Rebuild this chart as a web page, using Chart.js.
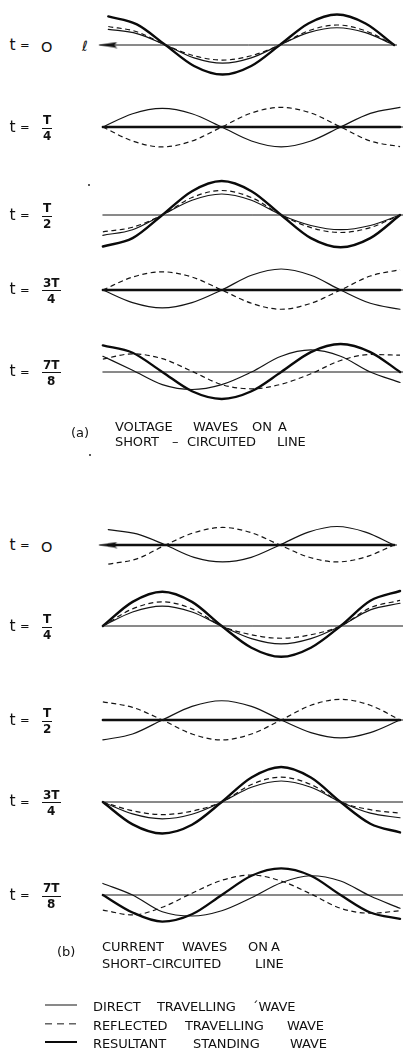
<!DOCTYPE html>
<html><head><meta charset="utf-8">
<script src="https://cdn.jsdelivr.net/npm/chart.js@4.4.1/dist/chart.umd.min.js"></script>
<style>
html,body{margin:0;padding:0;background:#fff;}
body{width:403px;height:1052px;position:relative;overflow:hidden;font-family:'DejaVu Sans',sans-serif;color:#111;}
canvas.w{position:absolute;left:88px;}
.a{position:absolute;line-height:1;white-space:pre;transform:translateY(-50%);}
.fr{position:absolute;display:flex;flex-direction:column;align-items:center;font-size:12px;font-weight:bold;line-height:1;transform:translateY(-50%);}
.fr .n{border-bottom:1.3px solid #111;padding:0 1px 1.5px;}
.fr .d{padding-top:1.5px;}
.dot{position:absolute;width:2px;height:2px;border-radius:1px;background:#222;}
.ls{position:absolute;width:32px;transform:translateY(-50%);}
</style></head>
<body>
<script>
// positions along the line, in eighths of a wavelength from the sending end
const positions = [0, 1, 2, 3, 4, 5, 6, 7, 8, 9, 10];
// instants shown (numerator / denominator of t)
const timeNum = ['O', 'T', 'T', '3T', '7T'];
const timeDen = ['', '4', '2', '4', '8'];

// (a) voltage waves on a short-circuited line, one row per instant
const voltDirect = [
  [0.51, 0.37, 0, -0.42, -0.59, -0.42, 0, 0.40, 0.56, 0.40, 0],
  [0, 0.38, 0.53, 0.38, 0, -0.40, -0.57, -0.40, 0, 0.39, 0.56],
  [-0.58, -0.42, 0, 0.42, 0.60, 0.42, 0, -0.30, -0.42, -0.30, 0],
  [0, -0.36, -0.51, -0.36, 0, 0.42, 0.60, 0.42, 0, -0.38, -0.55],
  [0.45, 0.05, -0.36, -0.50, -0.36, 0, 0.45, 0.63, 0.45, 0, -0.30]
];
const voltReflected = [
  [0.60, 0.43, 0, -0.35, -0.49, -0.35, 0, 0.46, 0.65, 0.46, 0],
  [0, -0.40, -0.57, -0.40, 0, 0.40, 0.56, 0.40, 0, -0.40, -0.56],
  [-0.48, -0.35, 0, 0.50, 0.70, 0.50, 0, -0.36, -0.50, -0.36, 0],
  [0, 0.37, 0.52, 0.37, 0, -0.38, -0.55, -0.38, 0, 0.40, 0.58],
  [0.37, 0.52, 0.38, 0.02, -0.36, -0.48, -0.35, -0.05, 0.33, 0.50, 0.48]
];
const voltResultant = [
  [0.93, 0.67, 0, -0.68, -0.96, -0.68, 0, 0.70, 0.99, 0.70, 0],
  [0, 0, 0, 0, 0, 0, 0, 0, 0, 0, 0],
  [-0.90, -0.66, 0, 0.68, 0.97, 0.68, 0, -0.66, -0.92, -0.66, 0],
  [0, 0, 0, 0, 0, 0, 0, 0, 0, 0, 0],
  [0.76, 0.55, 0, -0.55, -0.77, -0.55, 0, 0.57, 0.80, 0.57, 0]
];

// (b) current waves on a short-circuited line
const currDirect = [
  [0.50, 0.36, 0, -0.40, -0.55, -0.40, 0, 0.42, 0.60, 0.42, 0],
  [0, 0.40, 0.57, 0.40, 0, -0.36, -0.51, -0.36, 0, 0.46, 0.65],
  [-0.57, -0.40, 0, 0.39, 0.55, 0.39, 0, -0.36, -0.51, -0.36, 0],
  [0, -0.34, -0.48, -0.35, 0, 0.42, 0.60, 0.42, 0, -0.32, -0.45],
  [0.33, 0.00, -0.48, -0.60, -0.45, -0.08, 0.35, 0.55, 0.40, -0.03, -0.38]
];
const currReflected = [
  [-0.62, -0.45, 0, 0.40, 0.57, 0.40, 0, -0.39, -0.55, -0.39, 0],
  [0, 0.49, 0.69, 0.49, 0, -0.25, -0.35, -0.25, 0, 0.52, 0.73],
  [0.52, 0.36, 0, -0.40, -0.57, -0.40, 0, 0.42, 0.59, 0.42, 0],
  [0, -0.25, -0.36, -0.26, 0, 0.50, 0.71, 0.50, 0, -0.22, -0.32],
  [-0.43, -0.57, -0.35, 0.05, 0.42, 0.57, 0.40, 0.03, -0.38, -0.52, -0.45]
];
const currResultant = [
  [0, 0, 0, 0, 0, 0, 0, 0, 0, 0, 0],
  [0, 0.69, 0.98, 0.69, 0, -0.62, -0.88, -0.62, 0, 0.72, 1.00],
  [0, 0, 0, 0, 0, 0, 0, 0, 0, 0, 0],
  [0, -0.64, -0.90, -0.65, 0, 0.70, 1.00, 0.70, 0, -0.62, -0.87],
  [0, -0.50, -0.76, -0.55, 0, 0.55, 0.76, 0.55, 0, -0.50, -0.68]
];

// layout (page y of each panel's zero line)
const voltRowY = [45, 127, 215, 289.5, 371.5];
const currRowY = [545, 626, 720, 801.5, 895];

const INK = '#141414';
const arrowImg = document.createElement('canvas');
arrowImg.width = 20; arrowImg.height = 7;
(function(){
  const g = arrowImg.getContext('2d');
  g.fillStyle = INK;
  g.beginPath(); g.moveTo(0, 3.5); g.lineTo(19, 0.6); g.lineTo(16, 3.5); g.lineTo(19, 6.4); g.closePath(); g.fill();
})();

function el(cls, html, left, top, size, extra) {
  const d = document.createElement('div');
  d.className = cls; d.innerHTML = html;
  d.style.left = left + 'px'; d.style.top = top + 'px';
  if (size) d.style.fontSize = size + 'px';
  if (extra) Object.assign(d.style, extra);
  document.body.appendChild(d);
  return d;
}

function label(k, y) {
  el('a', 't', 9.5, y + 0.5, 15.5);
  el('a', '=', 20, y + 1, 11.5);
  if (timeDen[k] === '') {
    el('a', timeNum[k], 41, y + 1.5, 14.5);
  } else {
    const f = document.createElement('div');
    f.className = 'fr';
    f.innerHTML = '<span class="n">' + timeNum[k] + '</span><span class="d">' + timeDen[k] + '</span>';
    f.style.left = '42px'; f.style.top = (y + 1) + 'px';
    document.body.appendChild(f);
  }
}

function panel(y, direct, reflected, resultant, arrow) {
  const c = document.createElement('canvas');
  c.className = 'w'; c.width = 315; c.height = 100;
  c.style.width = '315px'; c.style.height = '100px';
  c.style.top = (y - 50) + 'px';
  document.body.appendChild(c);
  const pts = arr => positions.map((x, i) => ({x: x, y: arr[i]}));
  const common = {pointRadius: 0, fill: false, cubicInterpolationMode: 'monotone', borderColor: INK, borderCapStyle: 'round', borderJoinStyle: 'round'};
  const datasets = [
    Object.assign({}, common, {data: [{x: arrow ? -0.3 : 0, y: 0}, {x: 10.1, y: 0}], borderWidth: 1}),
    Object.assign({}, common, {data: pts(direct), borderWidth: 1.2}),
    Object.assign({}, common, {data: pts(reflected), borderWidth: 1.2, borderDash: [5, 3.5], borderCapStyle: 'butt'}),
    Object.assign({}, common, {data: pts(resultant), borderWidth: 2.4, borderColor: '#0a0a0a'})
  ];
  if (arrow) {
    datasets.push({data: [{x: positions[0], y: 0}], showLine: false, pointRadius: 5, pointStyle: arrowImg, borderColor: INK, backgroundColor: INK});
  }
  new Chart(c, {
    type: 'line',
    data: {datasets: datasets},
    options: {
      responsive: false, animation: false, events: [],
      layout: {padding: 0},
      plugins: {legend: {display: false}, tooltip: {enabled: false}},
      scales: {
        x: {type: 'linear', min: -0.5, max: 10.1, display: false},
        y: {min: -1.4286, max: 1.4286, display: false}
      }
    }
  });
}

for (let k = 0; k < 5; k++) {
  panel(voltRowY[k], voltDirect[k], voltReflected[k], voltResultant[k], k === 0);
  label(k, voltRowY[k]);
  panel(currRowY[k], currDirect[k], currReflected[k], currResultant[k], k === 0);
  label(k, currRowY[k]);
}
el('a', 'ℓ', 82, 46, 14, {fontStyle: 'italic'});

// captions
function words(list, y, size) { list.forEach(w => el('a', w[0], w[1], y, size || 13, {letterSpacing: '-0.1px'})); }
el('a', '(a)', 71, 432, 13);
words([['VOLTAGE', 115], ['WAVES', 193], ['ON', 252], ['A', 278]], 425.5);
words([['SHORT', 115], ['–', 172], ['CIRCUITED', 187], ['LINE', 277]], 440.5);
el('a', '(b)', 57, 951, 13);
words([['CURRENT', 102], ['WAVES', 182], ['ON', 248], ['A', 271]], 945.5);
words([['SHORT–CIRCUITED', 102], ['LINE', 255]], 962.5);

// legend
el('ls', '', 45, 1005, 0, {borderTop: '1.2px solid ' + INK});
el('ls', '', 45, 1024, 0, {height: '1.3px', background: 'repeating-linear-gradient(to right,' + INK + ' 0 7px, transparent 7px 12px)'});
el('ls', '', 45, 1042, 0, {borderTop: '2.4px solid #0a0a0a'});
words([['DIRECT', 93], ['TRAVELLING', 157], ['´WAVE', 252]], 1005.5);
words([['REFLECTED', 93], ['TRAVELLING', 185], ['WAVE', 287]], 1024.5);
words([['RESULTANT', 93], ['STANDING', 193], ['WAVE', 290]], 1042.5);

// specks on the original print
el('dot', '', 88, 184);
el('dot', '', 89, 454);
</script>
</body></html>
